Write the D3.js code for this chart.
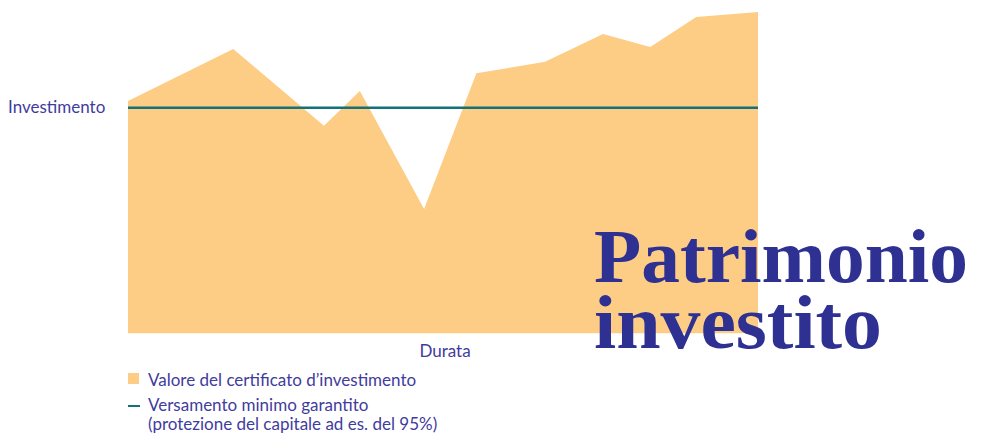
<!DOCTYPE html>
<html>
<head>
<meta charset="utf-8">
<script src="https://cdn.jsdelivr.net/npm/d3@7"></script>
<style>
  body { margin: 0; background: #fff; }
  svg { display: block; }
</style>
</head>
<body>
<div id="chart"></div>
<script>
// durata (0-100) and valore del certificato (investimento = 100)
const durata = [0, 16.7, 31.1, 36.8, 47, 55.3, 66.2, 75.4, 82.9, 90.2, 100];
const valore = [103.0, 126.0, 92.0, 107.4, 55.1, 115.2, 120.3, 132.7, 126.9, 140.2, 142.4];
const garantito = 100;
const legendLabels = ["Valore del certificato d\u2019investimento", "Versamento minimo garantito", "(protezione del capitale ad es. del 95%)"];

const width = 987, height = 435;
const margin = {left: 128, right: 229, top: 12, bottom: 102};

const svg = d3.select("#chart").append("svg")
    .attr("width", width)
    .attr("height", height);

const x = d3.scaleLinear().domain([0, 100]).range([margin.left, width - margin.right]);
const y = d3.scaleLinear().domain([0, 142.4]).range([height - margin.bottom + 0.3, margin.top]);

const textCol = "#3f3c9e";
const sans = "Lato, 'Open Sans', sans-serif";
const fs = 17;

let data = durata.map((d, i) => ({t: d, v: valore[i]}));

// area
let area = d3.area()
    .x(d => x(d.t))
    .y0(y(0))
    .y1(d => y(d.v));

svg.append("path")
    .datum(data)
    .attr("d", area)
    .attr("fill", "#fdcd86");

// guaranteed line
svg.append("line")
    .attr("x1", x(0)).attr("x2", x(100))
    .attr("y1", y(garantito)).attr("y2", y(garantito))
    .attr("stroke", "#137279")
    .attr("stroke-width", 2.5);

svg.append("text")
    .attr("x", 8).attr("y", y(garantito) + 5)
    .attr("font-family", sans).attr("font-size", fs)
    .attr("fill", textCol)
    .text("Investimento");

svg.append("text")
    .attr("x", 445).attr("y", 357)
    .attr("text-anchor", "middle")
    .attr("font-family", sans).attr("font-size", fs)
    .attr("fill", textCol)
    .text("Durata");

// legend
svg.append("rect")
    .attr("x", 128).attr("y", 373)
    .attr("width", 11).attr("height", 11)
    .attr("fill", "#fdcd86");
svg.append("line")
    .attr("x1", 128).attr("x2", 140)
    .attr("y1", 406).attr("y2", 406)
    .attr("stroke", "#137279").attr("stroke-width", 2);

svg.selectAll(".leg")
    .data(legendLabels)
    .enter().append("text")
    .attr("class", "leg")
    .attr("x", 148)
    .attr("y", (d, i) => [386, 411, 430][i])
    .attr("font-family", sans).attr("font-size", fs)
    .attr("fill", textCol)
    .text(d => d);

// title
const title = svg.append("g")
    .attr("font-family", "'Liberation Serif', 'DejaVu Serif', serif")
    .attr("font-weight", "bold")
    .attr("font-size", 76)
    .attr("fill", "#2e3192");
title.append("text")
    .attr("x", 594).attr("y", 282)
    .attr("textLength", 374).attr("lengthAdjust", "spacingAndGlyphs")
    .text("Patrimonio");
title.append("text")
    .attr("x", 594).attr("y", 348)
    .attr("textLength", 288).attr("lengthAdjust", "spacingAndGlyphs")
    .text("investito");
</script>
</body>
</html>
